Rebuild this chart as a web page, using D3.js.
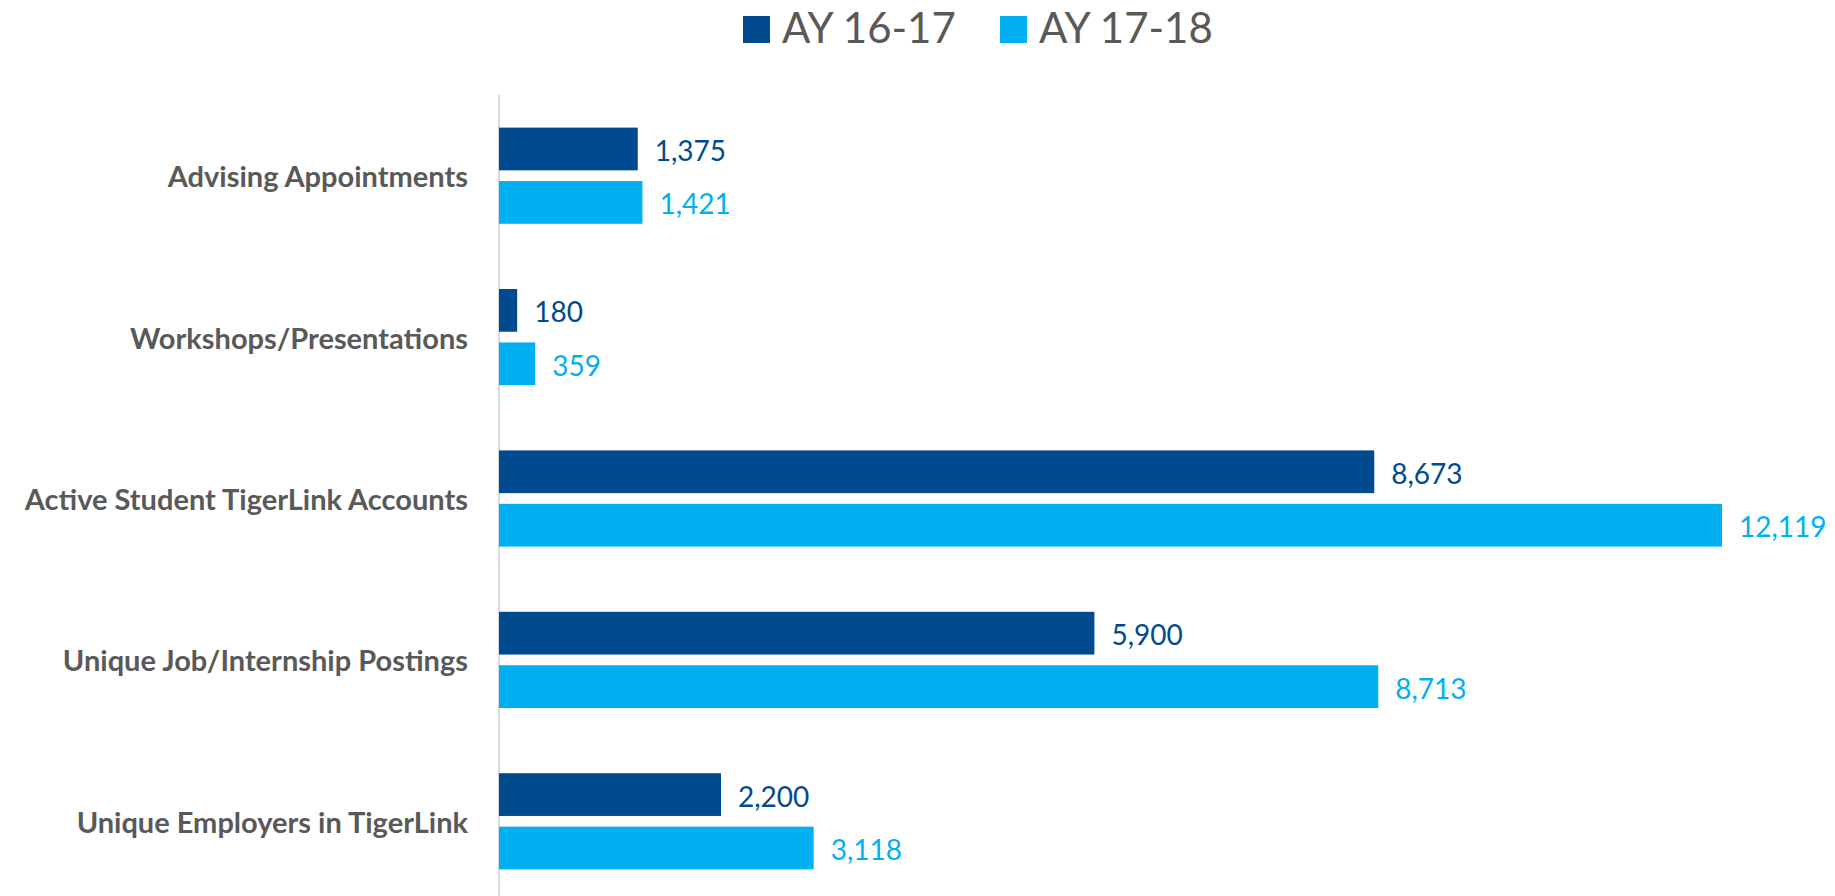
<!DOCTYPE html>
<html>
<head>
<meta charset="utf-8">
<script src="https://cdn.jsdelivr.net/npm/d3@7"></script>
<style>
  body { margin: 0; background: #fff; }
  svg { display: block; font-family: Lato, "Open Sans", sans-serif; }
  .catLabel { fill: #595959; font-weight: bold; font-size: 29px; }
  .valLabel { font-size: 28px; }
  .legendText { fill: #595959; font-size: 42px; }
</style>
</head>
<body>
<div id="chart"></div>
<script>
// chart values
var categories = [
    'Advising Appointments',
    'Workshops/Presentations',
    'Active Student TigerLink Accounts',
    'Unique Job/Internship Postings',
    'Unique Employers in TigerLink'
];
var seriesNames  = ['AY 16-17', 'AY 17-18'];
var seriesColors = ['#004a8f', '#00b0f0'];
var ay1617 = [1375, 180, 8673, 5900, 2200];
var ay1718 = [1421, 359, 12119, 8713, 3118];

var W = 1835, H = 896;
var fmt = d3.format(',');

var svg = d3.select('#chart')
            .append('svg')
            .attr('width', W)
            .attr('height', H);

var xScale = d3.scaleLinear()
               .domain([0, 12119])
               .range([499, 1722]);

var yScale = d3.scaleBand()
               .domain(categories)
               .range([95, 902])
               .padding(0);

var ySub = d3.scaleBand()
             .domain(seriesNames)
             .range([0, yScale.bandwidth()])
             .paddingInner(0.2)
             .paddingOuter(0.61);

// vertical axis line
svg.append('line')
   .attr('x1', xScale(0))
   .attr('x2', xScale(0))
   .attr('y1', yScale.range()[0])
   .attr('y2', yScale.range()[1])
   .attr('stroke', '#d9d9d9')
   .attr('stroke-width', 2);

// category labels
svg.selectAll('.catLabel')
   .data(categories)
   .enter()
   .append('text')
   .attr('class', 'catLabel')
   .attr('x', xScale(0) - 31)
   .attr('y', function (d) { return yScale(d) + yScale.bandwidth() / 2; })
   .attr('text-anchor', 'end')
   .attr('dominant-baseline', 'central')
   .text(function (d) { return d; });

var rows = [];
categories.forEach(function (c, i) {
    rows.push({ cat: c, s: 0, v: ay1617[i] });
    rows.push({ cat: c, s: 1, v: ay1718[i] });
});

svg.selectAll('.bar')
   .data(rows)
   .enter()
   .append('rect')
   .attr('class', 'bar')
   .attr('x', xScale(0))
   .attr('y', function (d) { return yScale(d.cat) + ySub(seriesNames[d.s]); })
   .attr('width', function (d) { return xScale(d.v) - xScale(0); })
   .attr('height', ySub.bandwidth())
   .attr('fill', function (d) { return seriesColors[d.s]; });

svg.selectAll('.valLabel')
   .data(rows)
   .enter()
   .append('text')
   .attr('class', 'valLabel')
   .attr('x', function (d) { return xScale(d.v) + 17; })
   .attr('y', function (d) { return yScale(d.cat) + ySub(seriesNames[d.s]) + ySub.bandwidth() / 2 + 1; })
   .attr('dominant-baseline', 'central')
   .attr('fill', function (d) { return seriesColors[d.s]; })
   .text(function (d) { return fmt(d.v); });

// legend
var legendX = [743, 1000];
var leg = svg.selectAll('.legend')
             .data(seriesNames)
             .enter()
             .append('g')
             .attr('class', 'legend')
             .attr('transform', function (d, i) { return 'translate(' + legendX[i] + ',0)'; });

leg.append('rect')
   .attr('x', 0)
   .attr('y', 16)
   .attr('width', 27)
   .attr('height', 27)
   .attr('fill', function (d, i) { return seriesColors[i]; });

leg.append('text')
   .attr('class', 'legendText')
   .attr('x', 39)
   .attr('y', 43)
   .text(function (d) { return d; });
</script>
</body>
</html>
